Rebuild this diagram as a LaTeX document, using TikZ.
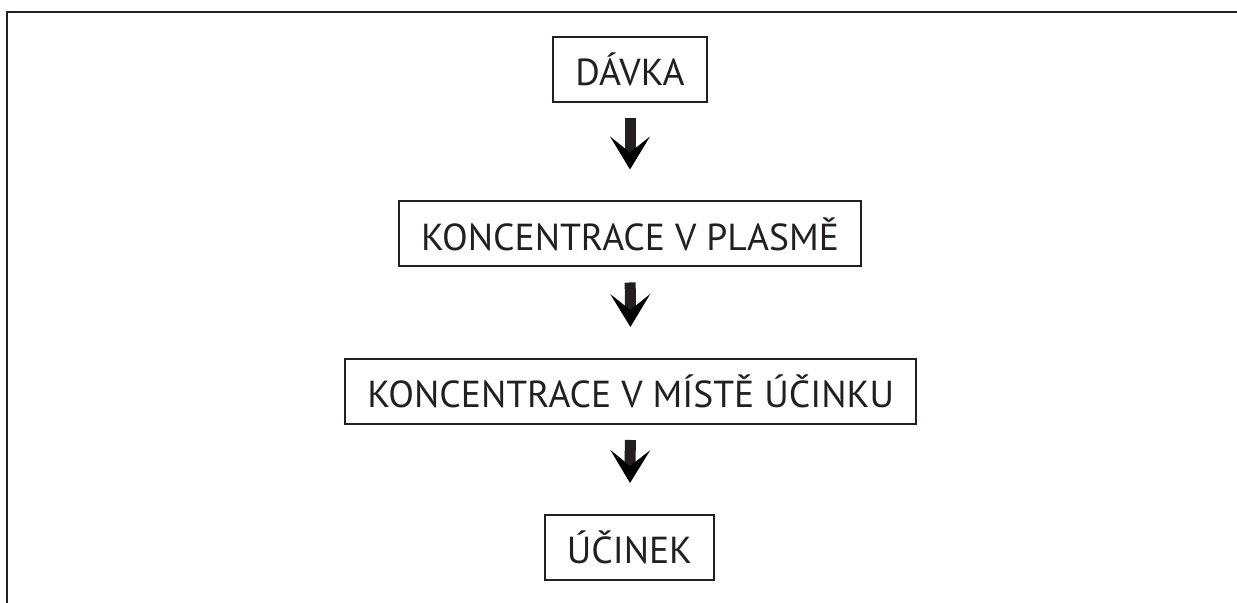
\documentclass[tikz,border=0pt]{standalone}
\usepackage{fontspec}
\setmainfont{PT Sans}
\usetikzlibrary{arrows.meta}
\definecolor{ink}{RGB}{35,31,32}

\begin{document}
\begin{tikzpicture}
      [ x=0.5pt, y=-0.5pt
      , stage/.style={draw=ink, text=ink, line width=1pt, minimum width=73.8pt, minimum height=32.5pt, inner xsep=11pt, font=\fontsize{18.8}{22}\selectfont}
      , flow/.style={draw=ink, line width=5.5pt, -{Stealth[length=16.5pt, width=20pt, inset=8pt, line width=0pt]}, shorten <=7.5pt, shorten >=15.5pt}
      , frame/.style={draw=ink, line width=1.15pt}
      ]
    \useasboundingbox (0,0) rectangle (1237,603);
    \draw[frame] (7.2,640) -- (7.2,12.2) -- (1260,12.2);

    \node[stage] (D) at (630,69.5) {DÁVKA};
    \node[stage] (KP) at (630,234) {KONCENTRACE V PLASMĚ};
    \node[stage] (KM) at (630.7,391.5) {KONCENTRACE V MÍSTĚ ÚČINKU};
    \node[stage] (U) at (629.5,547.5) {ÚČINEK};

    \draw[flow]
    (D) edge (KP)
    (KP) edge (KM)
    (KM) edge (U);
\end{tikzpicture}
\end{document}
